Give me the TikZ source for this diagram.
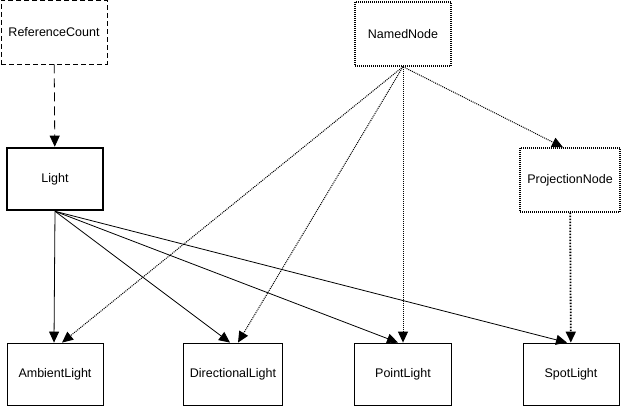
\documentclass[tikz,border=0pt]{standalone}
\usepackage{fontspec}
\setmainfont{Liberation Sans}
\usetikzlibrary{arrows.meta}
\tikzset{
classbox/.style={shape=rectangle, draw=black, line width=0.8pt, minimum width=96pt, minimum height=62pt, inner sep=0pt, font=\fontsize{12.5}{14}\selectfont},
basebox/.style={classbox, line width=2.6pt},
refbox/.style={classbox, dash pattern=on 5pt off 3pt},
namedbox/.style={classbox, line width=1.4pt, dash pattern=on 1pt off 1pt},
inherit/.style={line width=0.8pt, -{Triangle[length=11pt,width=10pt]}},
refline/.style={inherit, dash pattern=on 9pt off 5pt},
namedline/.style={inherit, line width=1pt, dash pattern=on 1pt off 1pt},
projline/.style={inherit, line width=1.8pt, dash pattern=on 1.5pt off 1.5pt}}

\begin{document}
\begin{tikzpicture}[x=1pt, y=-1pt]
    \useasboundingbox (0,0) rectangle (622,406);

                \node[refbox, minimum width=106pt, minimum height=64pt] (R) at (54,32) {ReferenceCount};
                \node[namedbox, minimum height=64pt] (N) at (403,34) {NamedNode};
                \node[basebox, minimum height=62pt] (L) at (55,179) {Light};
                \node[namedbox, minimum width=100pt, minimum height=64pt] (P) at (570,180) {ProjectionNode};
                \node[classbox] (A) at (55,374) {AmbientLight};
                \node[classbox, minimum width=99pt] (D) at (233,374) {DirectionalLight};
                \node[classbox, minimum width=97pt] (PL) at (403,374) {PointLight};
                \node[classbox] (S) at (571,374) {SpotLight};

                \draw[refline] (R) -- (L);
                \draw[inherit] (L.south) -- ([xshift=-1pt]A.north);
                \draw[inherit] (L.south) -- ([xshift=-3pt]D.north);
                \draw[inherit] (L.south) -- ([xshift=-5pt]PL.north);
                \draw[inherit] (L.south) -- ([xshift=-4pt]S.north);
                \draw[namedline] (N.south) -- ([xshift=7pt]A.north);
                \draw[namedline] (N.south) -- ([xshift=5pt]D.north);
                \draw[namedline] (N.south) -- (PL.north);
                \draw[namedline] (N.south) -- ([xshift=-7pt]P.north);
                \draw[projline] (P) -- (S);

            \end{tikzpicture}
\end{document}
